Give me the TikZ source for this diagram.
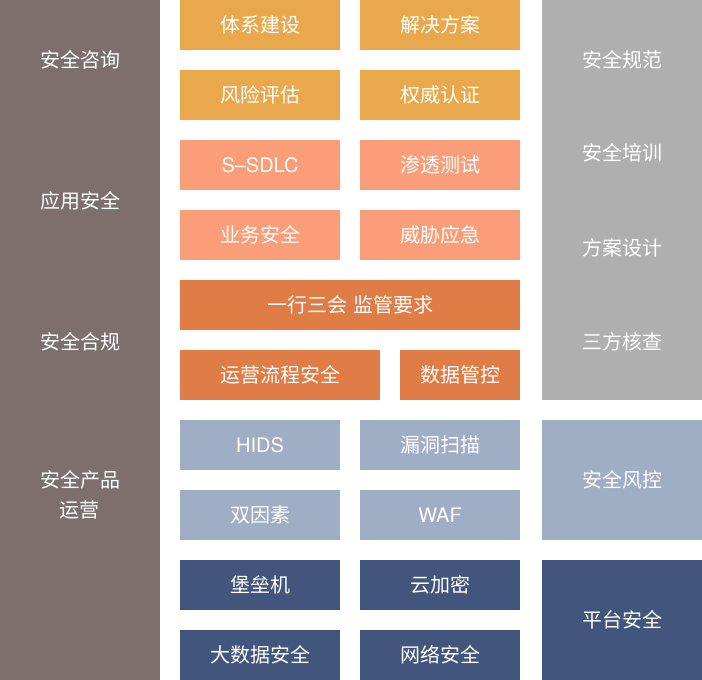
\documentclass[tikz,border=0pt]{standalone}
\usepackage{fontspec}
\setmainfont{Noto Sans CJK SC}
\newfontfamily\latinsans{TeX Gyre Heros}
\definecolor{cleft}{HTML}{7D6F6E}
\definecolor{corange}{HTML}{E9A84B}
\definecolor{csalmon}{HTML}{F99E78}
\definecolor{cdark}{HTML}{E07C45}
\definecolor{cgrey}{HTML}{AEAFAE}
\definecolor{clight}{HTML}{9FAEC4}
\definecolor{cnavy}{HTML}{42557C}
\begin{document}
\begin{tikzpicture}[x=1pt,y=-1pt,
  lbl/.style={text=white,font=\fontsize{20}{30}\selectfont,align=center},
  blk/.style={inner sep=0pt,outer sep=0pt}]
\useasboundingbox (0,0) rectangle (702,680);
\fill[white] (0,0) rectangle (702,680);
% left column
\fill[cleft] (0,0) rectangle (160,680);
\node[lbl] (l1) at (80,60) {安全咨询};
\node[lbl] (l2) at (80,201) {应用安全};
\node[lbl] (l3) at (80,342) {安全合规};
\node[lbl] (l4) at (80,495) {安全产品\\运营};
% boxes
\newcommand{\mybox}[6]{\fill[#5] (#1,#2) rectangle (#3,#4); \node[lbl] at ({(#1+#3)/2},{(#2+#4)/2}) {#6};}
\mybox{180}{0}{340}{50}{corange}{体系建设}
\mybox{360}{0}{520}{50}{corange}{解决方案}
\mybox{180}{70}{340}{120}{corange}{风险评估}
\mybox{360}{70}{520}{120}{corange}{权威认证}
\mybox{180}{140}{340}{190}{csalmon}{{\latinsans S–SDLC}}
\mybox{360}{140}{520}{190}{csalmon}{渗透测试}
\mybox{180}{210}{340}{260}{csalmon}{业务安全}
\mybox{360}{210}{520}{260}{csalmon}{威胁应急}
\mybox{180}{280}{520}{330}{cdark}{一行三会\hspace{0.3em}监管要求}
\mybox{180}{350}{380}{400}{cdark}{运营流程安全}
\mybox{400}{350}{520}{400}{cdark}{数据管控}
\mybox{180}{420}{340}{470}{clight}{{\latinsans HIDS}}
\mybox{360}{420}{520}{470}{clight}{漏洞扫描}
\mybox{180}{490}{340}{540}{clight}{双因素}
\mybox{360}{490}{520}{540}{clight}{{\latinsans WAF}}
\mybox{180}{560}{340}{610}{cnavy}{堡垒机}
\mybox{360}{560}{520}{610}{cnavy}{云加密}
\mybox{180}{630}{340}{680}{cnavy}{大数据安全}
\mybox{360}{630}{520}{680}{cnavy}{网络安全}
% right column
\fill[cgrey] (542,0) rectangle (702,400);
\node[lbl] (r1) at (622,60) {安全规范};
\node[lbl] (r2) at (622,153) {安全培训};
\node[lbl] (r3) at (622,248) {方案设计};
\node[lbl] (r4) at (622,342) {三方核查};
\fill[clight] (542,420) rectangle (702,540);
\node[lbl] (r5) at (622,480) {安全风控};
\fill[cnavy] (542,560) rectangle (702,680);
\node[lbl] (r6) at (622,620) {平台安全};
\end{tikzpicture}
\end{document}
